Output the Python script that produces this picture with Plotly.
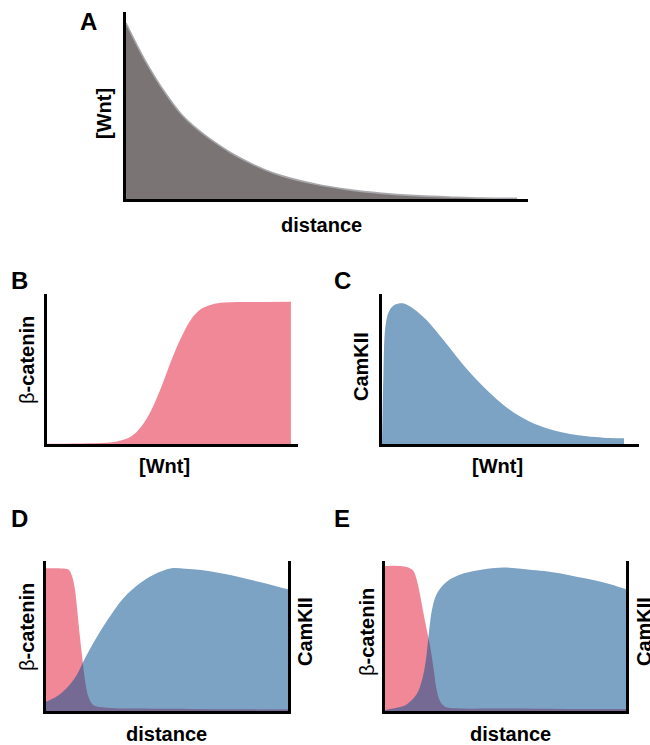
import plotly.graph_objects as go

# ---------------- data (fractions of axis height) ----------------
# Panel A: [Wnt] vs distance
a_distance = [0, 0.030, 0.056, 0.098, 0.141, 0.184, 0.226, 0.269, 0.312, 0.355,
              0.397, 0.483, 0.568, 0.654, 0.739, 0.825, 0.910, 1.0]
a_wnt = [0.941, 0.815, 0.715, 0.575, 0.455, 0.371, 0.305, 0.246, 0.198, 0.157,
         0.125, 0.080, 0.050, 0.030, 0.018, 0.011, 0.005, 0.004]

# Panel B: beta-catenin vs [Wnt]
b_wnt = [0, 0.114, 0.223, 0.291, 0.346, 0.387, 0.428, 0.469, 0.510, 0.551,
         0.592, 0.633, 0.674, 0.729, 0.839, 1.0]
b_catenin = [0.002, 0.004, 0.007, 0.018, 0.051, 0.117, 0.227, 0.382, 0.558, 0.713,
             0.834, 0.901, 0.929, 0.943, 0.947, 0.949]

# Panel C: CamKII vs [Wnt]
c_wnt = [0, 0.0055, 0.0138, 0.0275, 0.048, 0.076, 0.103, 0.144, 0.186, 0.227,
         0.282, 0.337, 0.392, 0.447, 0.502, 0.571, 0.640, 0.708, 0.777, 0.846,
         0.915, 1.0]
c_camkii = [0, 0.44, 0.779, 0.879, 0.923, 0.938, 0.929, 0.885, 0.823, 0.746,
            0.636, 0.525, 0.426, 0.338, 0.260, 0.183, 0.128, 0.091, 0.066, 0.051,
            0.042, 0.038]

# Panel D: beta-catenin and CamKII vs distance
d_cat_distance = [0, 0.05, 0.092, 0.106, 0.120, 0.129, 0.140, 0.151, 0.161, 0.175,
                  0.195, 0.250, 0.4, 0.6, 0.8, 1.0]
d_catenin = [0.951, 0.951, 0.944, 0.907, 0.807, 0.673, 0.496, 0.340, 0.207, 0.096,
             0.040, 0.022, 0.016, 0.013, 0.011, 0.011]
d_cam_distance = [0, 0.044, 0.085, 0.127, 0.154, 0.195, 0.250, 0.319, 0.388, 0.443,
                  0.518, 0.574, 0.642, 0.711, 0.780, 0.849, 0.917, 1.0]
d_camkii = [0.062, 0.096, 0.151, 0.240, 0.329, 0.451, 0.596, 0.750, 0.851, 0.907,
            0.951, 0.949, 0.940, 0.922, 0.900, 0.873, 0.847, 0.811]

# Panel E: beta-catenin and CamKII vs distance
e_cat_distance = [0, 0.062, 0.097, 0.118, 0.131, 0.145, 0.159, 0.173, 0.187, 0.201,
                  0.214, 0.228, 0.249, 0.297, 0.5, 0.75, 1.0]
e_catenin = [0.967, 0.967, 0.956, 0.933, 0.878, 0.778, 0.656, 0.544, 0.433, 0.289,
             0.144, 0.067, 0.029, 0.018, 0.016, 0.013, 0.013]
e_cam_distance = [0, 0.048, 0.090, 0.131, 0.156, 0.169, 0.180, 0.187, 0.194, 0.214,
                  0.256, 0.325, 0.394, 0.495, 0.592, 0.661, 0.730, 0.800, 0.869,
                  0.938, 1.0]
e_camkii = [0.007, 0.022, 0.044, 0.111, 0.222, 0.333, 0.489, 0.589, 0.667, 0.778,
            0.862, 0.916, 0.940, 0.956, 0.944, 0.933, 0.916, 0.893, 0.871, 0.844,
            0.811]

panel_letters = ["A", "B", "C", "D", "E"]

# ---------------- style ----------------
W, H = 650, 745
PINK = "rgb(240,136,152)"
BLUE = "rgb(124,162,196)"
BLUE_T = "rgba(8,79,144,0.53)"
GRAY = "rgb(122,116,116)"
GRAY_EDGE = "rgb(168,168,172)"
FONT = "Liberation Sans, Arial, Helvetica, sans-serif"


def px_x(p):
    return p / W


def px_y(p):
    return 1 - p / H


fig = go.Figure()

# panel domains in pixels: (left, right, top, bottom)
panels = {
    "A": (126, 528, 12, 199),
    "B": (47, 298, 294, 444),
    "C": (382, 639, 294, 444),
    "D": (46, 288, 561, 711),
    "E": (385, 626, 561, 711),
}
xranges = {"A": [0, 1.028], "B": [0, 1.029], "C": [0, 1.062], "D": [0, 1], "E": [0, 1]}

layout = {}
for i, key in enumerate(["A", "B", "C", "D", "E"]):
    l, r, t, b = panels[key]
    n = "" if i == 0 else str(i + 1)
    layout["xaxis" + n] = dict(
        domain=[px_x(l), px_x(r)], range=xranges[key], anchor="y" + n,
        showgrid=False, zeroline=False, showticklabels=False, ticks="",
        showline=True, linecolor="black", linewidth=2.6, fixedrange=True,
    )
    layout["yaxis" + n] = dict(
        domain=[px_y(b), px_y(t)], range=[0, 1], anchor="x" + n,
        showgrid=False, zeroline=False, showticklabels=False, ticks="",
        showline=True, linecolor="black", linewidth=2.6, fixedrange=True,
        mirror=(key in ("D", "E")),
    )


def area(x, y, xa, ya, fillcolor, line_color=None, line_w=0):
    fig.add_trace(go.Scatter(
        x=x, y=y, xaxis=xa, yaxis=ya, mode="lines", fill="tozeroy",
        fillcolor=fillcolor,
        line=dict(color=line_color or fillcolor, width=line_w, shape="spline", smoothing=1.0),
        hoverinfo="skip", showlegend=False,
    ))


area(a_distance, a_wnt, "x", "y", GRAY, GRAY_EDGE, 1.6)
area(b_wnt, b_catenin, "x2", "y2", PINK)
area(c_wnt, c_camkii, "x3", "y3", BLUE)
area(d_cat_distance, d_catenin, "x4", "y4", PINK)
area(d_cam_distance, d_camkii, "x4", "y4", BLUE_T)
area(e_cat_distance, e_catenin, "x5", "y5", PINK)
area(e_cam_distance, e_camkii, "x5", "y5", BLUE_T)

# ---------------- text ----------------
ann = []


def text(s, x, y, size=20, angle=0):
    ann.append(dict(text=s, x=px_x(x), y=px_y(y), xref="paper", yref="paper",
                    showarrow=False, xanchor="center", yanchor="middle",
                    textangle=angle, font=dict(family=FONT, size=size, color="black")))


letter_pos = [(88, 21), (19, 280), (342, 280), (19, 518), (342, 518)]
for s, (x, y) in zip(panel_letters, letter_pos):
    text("<b>%s</b>" % s, x, y, size=24)

catenin = "β<b>-catenin</b>"
# A
text("<b>distance</b>", 321, 225)
text("<b>[Wnt]</b>", 104, 114, angle=-90)
# B
text(catenin, 27, 360, angle=-90)
text("<b>[Wnt]</b>", 164, 466)
# C
text("<b>CamKII</b>", 361, 367, angle=-90)
text("<b>[Wnt]</b>", 497, 466)
# D
text(catenin, 27, 627, angle=-90)
text("<b>CamKII</b>", 305, 632, angle=-90)
text("<b>distance</b>", 166, 734)
# E
text(catenin, 367, 632, angle=-90)
text("<b>CamKII</b>", 644, 632, angle=-90)
text("<b>distance</b>", 510, 734)

fig.update_layout(
    width=W, height=H, margin=dict(l=0, r=0, t=0, b=0),
    paper_bgcolor="white", plot_bgcolor="white",
    annotations=ann, showlegend=False, **layout,
)

fig.write_html("out.html", config={"displayModeBar": False},
               post_script="document.body.style.margin='0px';document.body.style.padding='0px';")
